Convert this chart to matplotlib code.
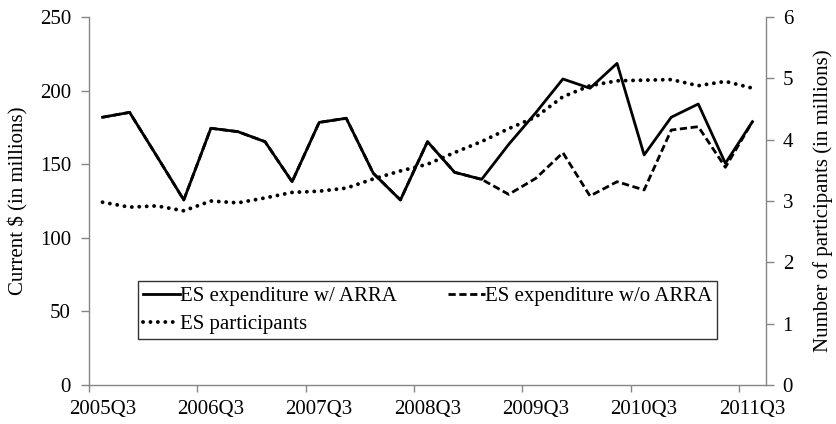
import matplotlib
matplotlib.use("Agg")
import matplotlib.pyplot as plt
from matplotlib.ticker import FixedLocator, NullFormatter

plt.rcParams['font.family'] = ['Liberation Serif', 'DejaVu Serif']

# Quarterly data, 2005Q3 - 2011Q3
quarters = ["2005Q3", "2005Q4", "2006Q1", "2006Q2", "2006Q3", "2006Q4", "2007Q1",
            "2007Q2", "2007Q3", "2007Q4", "2008Q1", "2008Q2", "2008Q3", "2008Q4",
            "2009Q1", "2009Q2", "2009Q3", "2009Q4", "2010Q1", "2010Q2", "2010Q3",
            "2010Q4", "2011Q1", "2011Q2", "2011Q3"]

# expenditure in millions of current dollars
exp_with_arra = [181.9, 185.2, 155.6, 125.7, 174.4, 172.1, 165.3, 138.1, 178.4,
                 181.2, 143.8, 125.7, 165.3, 144.5, 139.7, 163.5, 185.0, 207.9,
                 201.6, 218.5, 156.3, 181.9, 190.9, 150.6, 178.9]
exp_without_arra = [181.9, 185.2, 155.6, 125.7, 174.4, 172.1, 165.3, 138.1, 178.4,
                    181.2, 143.8, 125.7, 165.3, 144.5, 139.7, 129.5, 140.4, 157.8,
                    128.4, 138.1, 132.5, 173.2, 175.5, 147.9, 178.9]

# participants in millions
participants = [2.98, 2.90, 2.92, 2.84, 3.00, 2.97, 3.05, 3.14, 3.16, 3.21, 3.36,
                3.49, 3.60, 3.79, 3.97, 4.18, 4.37, 4.70, 4.88, 4.96, 4.97, 4.98,
                4.88, 4.95, 4.84]

x = list(range(len(quarters)))
grey = '#868686'
fs = 15

fig = plt.figure(figsize=(8.36, 4.24), dpi=100)
ax = fig.add_axes([89 / 836, 39 / 424, 677 / 836, 368 / 424])
ax2 = ax.twinx()

l_wo, = ax.plot(x, exp_without_arra, color='black', lw=2.0,
                linestyle=(0, (2.6, 1.3)), label='ES expenditure w/o ARRA')
l_w, = ax.plot(x, exp_with_arra, color='black', lw=2.0,
               label='ES expenditure w/ ARRA')
l_p, = ax2.plot(x, participants, color='black', lw=2.8,
                linestyle=(0, (0.01, 1.9)), dash_capstyle='round',
                label='ES participants')

ax.set_xlim(-0.5, 24.5)
ax.set_ylim(0, 250)
ax.set_yticks([0, 50, 100, 150, 200, 250])
ax2.set_ylim(0, 6)
ax2.set_yticks([0, 1, 2, 3, 4, 5, 6])

# labels centred on every fourth quarter, tick marks on the category boundaries
ax.set_xticks(x[::4])
ax.set_xticklabels(quarters[::4])
ax.xaxis.set_minor_locator(FixedLocator([i - 0.5 for i in x[::4]]))
ax.xaxis.set_minor_formatter(NullFormatter())
ax.tick_params(axis='x', which='major', length=0, pad=11, labelsize=fs)
ax.tick_params(axis='x', which='minor', length=5, width=1, color=grey)
ax.tick_params(axis='y', length=6, width=1, color=grey, pad=7, labelsize=fs)
ax2.tick_params(axis='y', length=6, width=1, color=grey, pad=6, labelsize=fs)

for a in (ax, ax2):
    a.spines['top'].set_visible(False)
    for s in a.spines.values():
        s.set_color(grey)
        s.set_linewidth(1)
ax.spines['right'].set_visible(False)
ax2.spines['left'].set_visible(False)
ax2.spines['bottom'].set_visible(False)

ax.set_ylabel("Current $ (in millions)", fontsize=fs, labelpad=8)
ax2.set_ylabel("Number of participants (in millions)", fontsize=fs, labelpad=14)

leg = ax.legend(handles=[l_w, l_p, l_wo],
                labels=['ES expenditure w/ ARRA', 'ES participants',
                        'ES expenditure w/o ARRA'],
                ncol=2, loc='lower left', mode='expand',
                bbox_to_anchor=(49 / 677, 46 / 368, 579 / 677, 56 / 368),
                fontsize=fs, frameon=True, fancybox=False, handlelength=1.75,
                handletextpad=0.0, labelspacing=0.4, borderpad=0.25,
                columnspacing=1.8, borderaxespad=0)
leg.get_frame().set_edgecolor('black')
leg.get_frame().set_linewidth(1)
leg.set_zorder(5)
ax.set_zorder(ax2.get_zorder() + 1)
ax.patch.set_visible(False)

fig.savefig("out.png", dpi=100)
